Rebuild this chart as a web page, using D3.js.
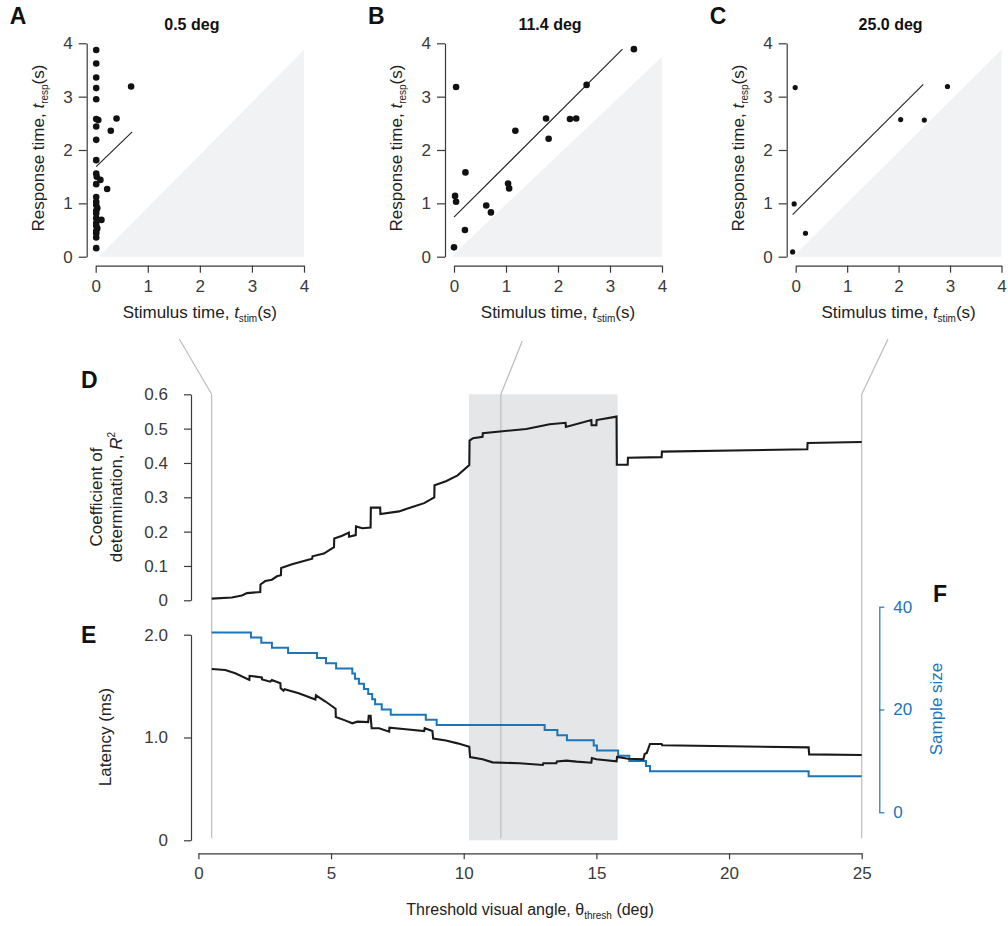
<html><head>
<script src="https://cdn.jsdelivr.net/npm/d3@7"></script>
<style>
  body { margin: 0; background: #fff; }
  text { font-family: "Liberation Sans", Arial, sans-serif; }
  .tick text { font-size: 17px; fill: #3a3a3a; }
  .tick line, .domain { stroke: #3a3a3a; stroke-width: 1.2px; }
  .lab { font-size: 17px; fill: #222; }
  .mlab { font-size: 16px; fill: #222; }
  .letter { font-size: 23px; font-weight: bold; fill: #111; }
  .title { font-size: 16px; font-weight: bold; fill: #111; }
</style>
</head>
<body>
<script>
// ---- data: scatter panels (stimulus time, response time) ----
var panelTitles = ["0.5 deg", "11.4 deg", "25.0 deg"];
var panelLetters = ["A", "B", "C"];
var panelAngles = [0.5, 11.4, 25];

var stimA = [0.01,0.01,0.01,0.01,0.01,0.68,0.01,0.05,0.40,0.01,0.29,0.01,0.01,0.01,0.02,0.09,0.01,0.22,0.01,0.01,0.01,0.03,0.01,0.01,0.01,0.11,0.01,0.03,0.01,0.01,0.01,0.01,0.01];
var respA = [3.875,3.62,3.36,3.16,2.95,3.19,2.58,2.56,2.59,2.44,2.36,2.19,1.81,1.56,1.50,1.44,1.36,1.27,1.12,1.03,0.97,0.91,0.86,0.81,0.72,0.69,0.63,0.53,0.48,0.44,0.36,0.58,0.16];
var fitA = [[0.01, 1.69], [0.70, 2.34]];
var shadeA = [[0.06, 0], [4, 0], [4, 3.88]];

var stimB = [0.0,0.21,0.02,0.04,0.22,0.04,0.62,0.71,1.04,1.06,1.18,1.77,1.82,2.23,2.35,2.55,3.46];
var respB = [0.175,0.5,1.14,1.03,1.58,3.18,0.96,0.83,1.37,1.28,2.36,2.59,2.21,2.58,2.59,3.22,3.89];
var fitB = [[0.0, 0.74], [3.24, 3.89]];
var shadeB = [[-0.06, 0], [4, 0], [4, 3.75]];

var stimC = [-0.06,-0.03,-0.01,0.19,2.04,2.50,2.95];
var respC = [0.09,0.99,3.17,0.44,2.57,2.56,3.19];
var fitC = [[-0.06, 0.79], [2.48, 3.23]];
var shadeC = [[-0.05, 0], [4, 0], [4, 3.88]];

var scatterTicks = [0, 1, 2, 3, 4];

// ---- data: R^2 vs threshold angle (deg, R2) ----
var r2Curve = [[0.5,0.005],[1.26,0.008],[1.64,0.014],[1.83,0.021],[2.33,0.024],[2.34,0.046],[2.52,0.056],[2.77,0.060],[2.96,0.070],[3.11,0.073],[3.12,0.094],[3.53,0.105],[4.04,0.116],[4.29,0.121],[4.30,0.128],[4.73,0.136],[5.11,0.155],[5.12,0.180],[5.42,0.188],[5.67,0.197],[5.68,0.185],[5.93,0.190],[5.94,0.215],[6.18,0.210],[6.49,0.212],[6.50,0.270],[6.85,0.270],[6.86,0.251],[7.56,0.259],[8.06,0.272],[8.51,0.283],[8.89,0.300],[8.90,0.335],[9.33,0.347],[9.77,0.364],[10.21,0.394],[10.22,0.465],[10.35,0.472],[10.71,0.476],[10.72,0.487],[12.36,0.499],[13.24,0.513],[13.84,0.517],[13.85,0.505],[14.81,0.525],[14.82,0.510],[15.0,0.510],[15.01,0.525],[15.76,0.535],[15.77,0.395],[16.18,0.395],[16.19,0.415],[17.46,0.417],[17.47,0.433],[22.95,0.440],[22.96,0.458],[25.0,0.461]];

// ---- data: latency (ms) vs threshold angle ----
var latency = [[0.5,1.666],[1.01,1.656],[1.39,1.624],[1.92,1.56],[1.93,1.60],[2.39,1.585],[2.40,1.565],[2.71,1.543],[2.77,1.56],[3.09,1.527],[3.10,1.48],[3.21,1.455],[3.25,1.47],[3.78,1.43],[4.41,1.37],[4.43,1.41],[4.79,1.35],[5.17,1.28],[5.18,1.20],[5.55,1.164],[5.80,1.138],[5.99,1.154],[6.40,1.15],[6.42,1.21],[6.49,1.21],[6.53,1.09],[6.81,1.09],[7.19,1.057],[7.20,1.095],[7.82,1.08],[8.51,1.063],[8.53,1.09],[8.82,1.063],[8.85,0.99],[9.33,0.97],[9.77,0.943],[10.21,0.91],[10.24,0.81],[10.71,0.788],[11.09,0.758],[12.1,0.749],[12.98,0.733],[13.0,0.75],[13.49,0.749],[13.51,0.767],[13.87,0.775],[14.25,0.765],[14.81,0.755],[14.83,0.80],[15.0,0.788],[15.76,0.768],[15.78,0.81],[16.2,0.794],[16.77,0.788],[16.82,0.84],[16.9,0.85],[17.02,0.937],[17.46,0.937],[17.48,0.925],[23.0,0.904],[23.02,0.836],[25.0,0.83]];

// ---- data: sample size steps (angle where the count starts, count) ----
var sampleSize = [[0.5,35],[1.98,34],[2.37,33],[2.77,32],[3.38,31],[4.47,30],[4.81,29],[5.19,28],[5.80,27],[5.90,26],[6.05,25],[6.24,24],[6.40,23],[6.55,22],[6.66,21],[6.91,20],[7.25,19],[8.57,18],[8.98,17],[13.05,16],[13.53,15],[13.89,14],[14.90,13],[15.02,12],[15.82,11],[16.24,10],[16.87,9],[17.02,8],[23.0,7],[25.0,7]];

var selectedBand = [10.2, 15.8];
var angleTicks = [0, 5, 10, 15, 20, 25];
var r2Ticks = [0, 0.1, 0.2, 0.3, 0.4, 0.5, 0.6];
var latTicks = [0, 1, 2];
var nTicks = [0, 20, 40];

var blue = "#1b75bb";

var svg = d3.select("body").append("svg")
  .attr("width", 1008).attr("height", 926);

// ---------- scatter panels ----------
var panels = [
  {stim: stimA, resp: respA, fit: fitA, shade: shadeA, x0: 95.7, x1: 304, r: 3.3},
  {stim: stimB, resp: respB, fit: fitB, shade: shadeB, x0: 454, x1: 662, r: 3.3},
  {stim: stimC, resp: respC, fit: fitC, shade: shadeC, x0: 795.7, x1: 1001.5, r: 2.6}
];

panels.forEach(function(p, i) {
  var x = d3.scaleLinear().domain([0, 4]).range([p.x0, p.x1]);
  var y = d3.scaleLinear().domain([0, 4]).range([256.7, 43.3]);
  var g = svg.append("g");

  g.append("path")
    .attr("d", d3.line().x(function(d) { return x(d[0]); }).y(function(d) { return y(d[1]); })(p.shade) + "Z")
    .attr("fill", "#f1f2f4");

  g.append("g")
    .attr("transform", "translate(" + (p.x0 - 9) + ",0)")
    .call(d3.axisLeft(y).tickValues(scatterTicks).tickSize(8).tickSizeOuter(0).tickPadding(6)
      .tickFormat(d3.format("d")));

  g.append("g")
    .attr("transform", "translate(0,265.7)")
    .call(d3.axisBottom(x).tickValues(scatterTicks).tickSize(7).tickSizeOuter(0).tickPadding(7)
      .tickFormat(d3.format("d")));

  g.append("line")
    .attr("x1", x(p.fit[0][0])).attr("y1", y(p.fit[0][1]))
    .attr("x2", x(p.fit[1][0])).attr("y2", y(p.fit[1][1]))
    .attr("stroke", "#222").attr("stroke-width", 1.1);

  g.selectAll("circle").data(p.stim).enter().append("circle")
    .attr("cx", function(d) { return x(d); })
    .attr("cy", function(d, j) { return y(p.resp[j]); })
    .attr("r", p.r).attr("fill", "#111");

  var cx = (p.x0 + p.x1) / 2;
  g.append("text").attr("class", "title").attr("x", cx - 8).attr("y", 30)
    .attr("text-anchor", "middle").text(panelTitles[i]);
  g.append("text").attr("class", "letter").attr("x", p.x0 - 86).attr("y", 24).text(panelLetters[i]);

  var xl = g.append("text").attr("class", "lab").attr("x", cx).attr("y", 318).attr("text-anchor", "middle");
  xl.append("tspan").text("Stimulus time, ");
  xl.append("tspan").attr("font-style", "italic").text("t");
  xl.append("tspan").attr("font-size", "10px").attr("dy", 4).text("stim");
  xl.append("tspan").attr("dy", -4).text("(s)");

  var yl = g.append("text").attr("class", "lab")
    .attr("transform", "translate(" + (p.x0 - 52) + ",148) rotate(-90)").attr("text-anchor", "middle");
  yl.append("tspan").text("Response time, ");
  yl.append("tspan").attr("font-style", "italic").text("t");
  yl.append("tspan").attr("font-size", "10px").attr("dy", 4).text("resp");
  yl.append("tspan").attr("dy", -4).text("(s)");
});

// ---------- main panels D, E, F ----------
var xMain = d3.scaleLinear().domain([0, 25]).range([198.4, 861.7]);
var yR2 = d3.scaleLinear().domain([0, 0.6]).range([600.3, 394.3]);
var yLat = d3.scaleLinear().domain([0, 2]).range([840.3, 634.7]);
var yN = d3.scaleLinear().domain([0, 40]).range([812.3, 606.7]);

// selected band
svg.append("rect")
  .attr("x", xMain(selectedBand[0])).attr("y", yR2(0.6))
  .attr("width", xMain(selectedBand[1]) - xMain(selectedBand[0]))
  .attr("height", yLat(0) - yR2(0.6))
  .attr("fill", "#e5e6e8");

// vertical markers and connectors to the scatter panels
var connectorTops = [[179.3, 339], [522.3, 341], [888, 339]];
panelAngles.forEach(function(a, i) {
  svg.append("line")
    .attr("x1", xMain(a)).attr("x2", xMain(a))
    .attr("y1", yR2(0.6)).attr("y2", yLat(0) - 2)
    .attr("stroke", "#bcbcbc").attr("stroke-width", 1.2);
  svg.append("line")
    .attr("x1", connectorTops[i][0]).attr("y1", connectorTops[i][1])
    .attr("x2", xMain(a)).attr("y2", yR2(0.6))
    .attr("stroke", "#bcbcbc").attr("stroke-width", 1.2);
});

// axes
svg.append("g").attr("transform", "translate(191,0)")
  .call(d3.axisLeft(yR2).tickValues(r2Ticks).tickSize(7).tickSizeOuter(0).tickPadding(16)
    .tickFormat(function(d) { return d === 0 ? "0" : d.toFixed(1); }));

svg.append("g").attr("transform", "translate(191,0)")
  .call(d3.axisLeft(yLat).tickValues(latTicks).tickSize(7).tickSizeOuter(0).tickPadding(16)
    .tickFormat(function(d) { return d === 0 ? "0" : d.toFixed(1); }));

svg.append("g").attr("transform", "translate(0,853.3)")
  .call(d3.axisBottom(xMain).tickValues(angleTicks).tickSize(6).tickSizeOuter(0).tickPadding(8));

var ax = svg.append("g").attr("transform", "translate(879.3,0)")
  .call(d3.axisRight(yN).tickValues(nTicks).tickSize(5).tickSizeOuter(0).tickPadding(9));
ax.selectAll(".domain, .tick line").style("stroke", blue);
ax.selectAll(".tick text").style("fill", blue);

// lines
svg.append("path").datum(r2Curve)
  .attr("d", d3.line().x(function(d) { return xMain(d[0]); }).y(function(d) { return yR2(d[1]); }))
  .attr("fill", "none").attr("stroke", "#1a1a1a").attr("stroke-width", 2.1);

svg.append("path").datum(sampleSize)
  .attr("d", d3.line().curve(d3.curveStepAfter).x(function(d) { return xMain(d[0]); }).y(function(d) { return yN(d[1]); }))
  .attr("fill", "none").attr("stroke", blue).attr("stroke-width", 2);

svg.append("path").datum(latency)
  .attr("d", d3.line().x(function(d) { return xMain(d[0]); }).y(function(d) { return yLat(d[1]); }))
  .attr("fill", "none").attr("stroke", "#1a1a1a").attr("stroke-width", 2.1);

// labels
svg.append("text").attr("class", "letter").attr("x", 81).attr("y", 388).text("D");
svg.append("text").attr("class", "letter").attr("x", 81).attr("y", 643).text("E");
svg.append("text").attr("class", "letter").attr("x", 933).attr("y", 602).text("F");

var dl = svg.append("text").attr("class", "lab")
  .attr("transform", "translate(102,497) rotate(-90)").attr("text-anchor", "middle");
dl.append("tspan").attr("x", 0).attr("dy", 0).text("Coefficient of");
var dl2 = dl.append("tspan").attr("x", 0).attr("dy", 20);
dl2.append("tspan").text("determination, ");
dl2.append("tspan").attr("font-style", "italic").text("R");
dl2.append("tspan").attr("font-size", "10px").attr("dy", -7).text("2");

svg.append("text").attr("class", "lab")
  .attr("transform", "translate(111,737) rotate(-90)").attr("text-anchor", "middle")
  .text("Latency (ms)");

svg.append("text").attr("class", "lab")
  .attr("transform", "translate(942,709) rotate(-90)").attr("text-anchor", "middle")
  .style("fill", blue).text("Sample size");

var tl = svg.append("text").attr("class", "mlab").attr("x", 530).attr("y", 915).attr("text-anchor", "middle");
tl.append("tspan").text("Threshold visual angle, \u03b8");
tl.append("tspan").attr("font-size", "10px").attr("dy", 4).text("thresh");
tl.append("tspan").attr("dy", -4).text(" (deg)");
</script>
</body></html>
